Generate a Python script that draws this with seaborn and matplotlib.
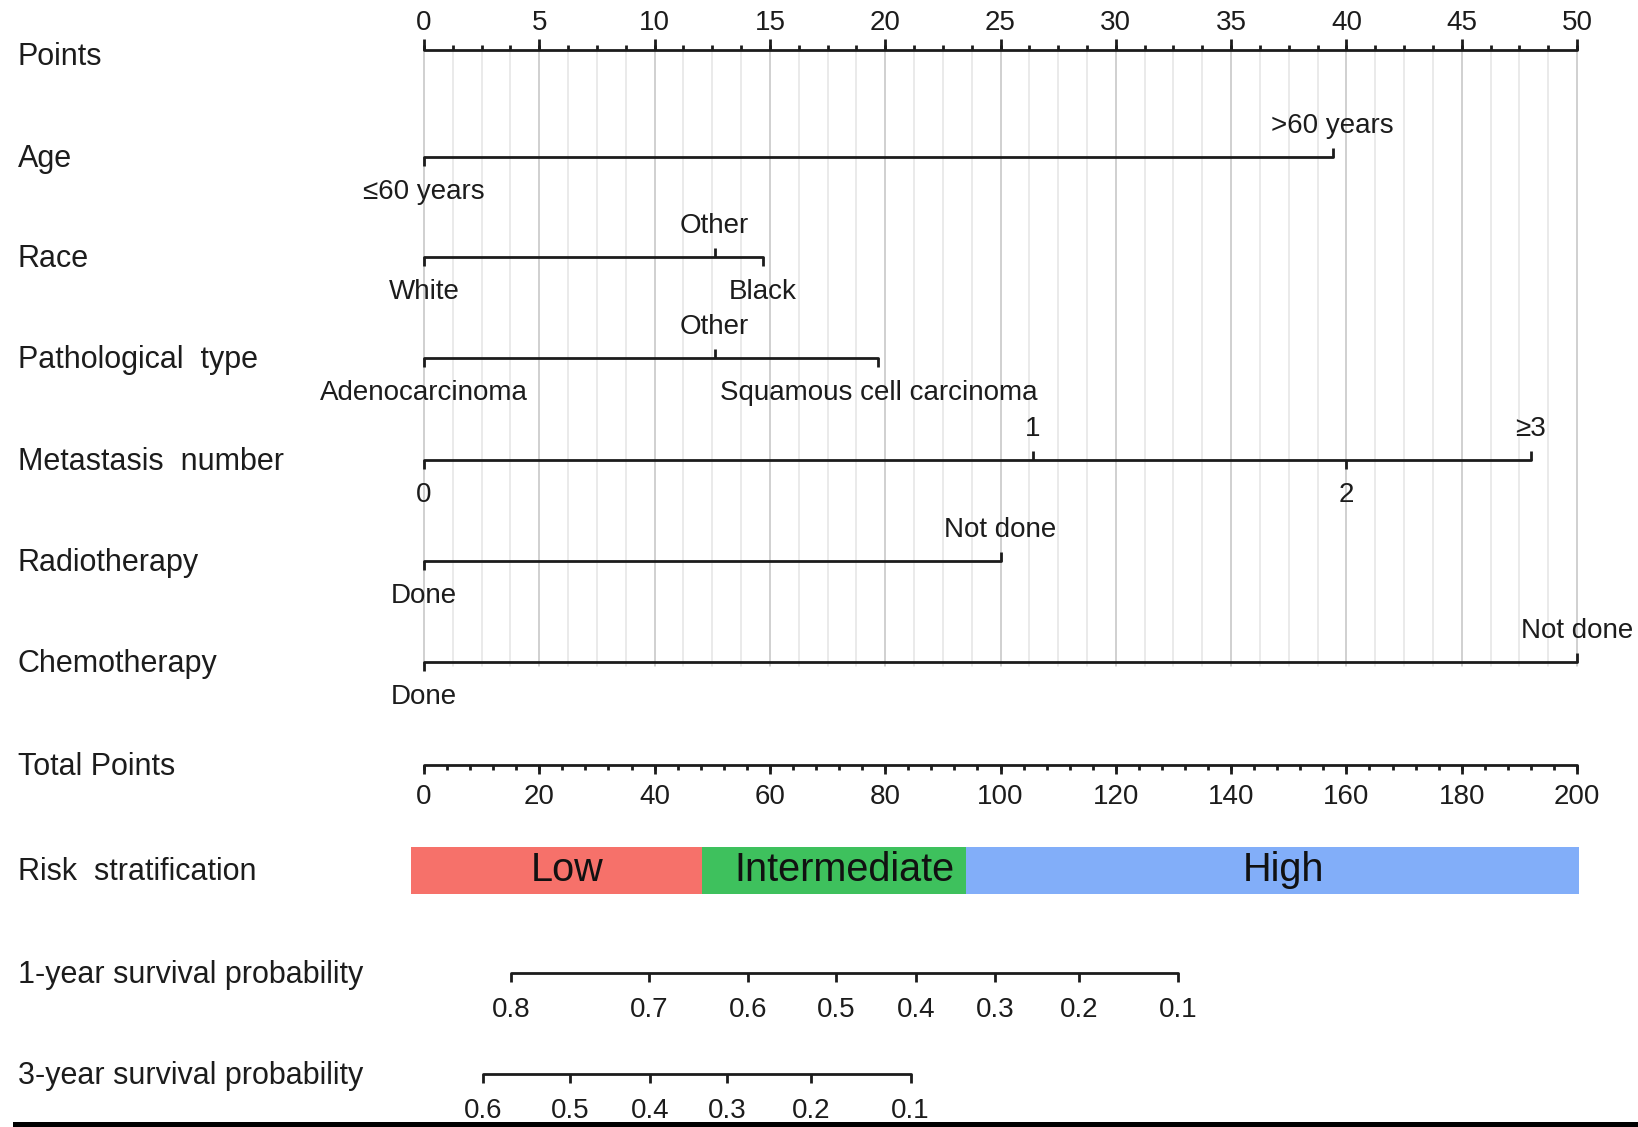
import numpy as np
import matplotlib
matplotlib.use("Agg")
import matplotlib.pyplot as plt
import seaborn as sns
from matplotlib.patches import Rectangle

# ========================
# DATA
# ========================
points_major = list(range(0, 51, 5))
total_major = list(range(0, 201, 20))

age_labels = ["≤60 years", ">60 years"]
age_points = [0, 39.4]
race_labels = ["White", "Other", "Black"]
race_points = [0, 12.6, 14.7]
path_labels = ["Adenocarcinoma", "Other", "Squamous cell carcinoma"]
path_points = [0, 12.6, 19.7]
meta_labels = ["0", "1", "2", "≥3"]
meta_points = [0, 26.4, 40.0, 48.0]
radio_labels = ["Done", "Not done"]
radio_points = [0, 25.0]
chemo_labels = ["Done", "Not done"]
chemo_points = [0, 50.0]

risk_labels = ["Low", "Intermediate", "High"]
risk_edges = [-2.3, 48.2, 94.1, 200.4]  # in total points
risk_colors = ["#F6716A", "#3EC15D", "#82AEF9"]

surv1_labels = ["0.8", "0.7", "0.6", "0.5", "0.4", "0.3", "0.2", "0.1"]
surv1_total = [15.1, 39.0, 56.2, 71.5, 85.4, 99.0, 113.6, 130.8]
surv3_labels = ["0.6", "0.5", "0.4", "0.3", "0.2", "0.1"]
surv3_total = [10.3, 25.3, 39.2, 52.6, 67.1, 84.4]

# ========================
# LAYOUT
# ========================
W, H = 1638, 1127
X0_PX, PX_PER_PT = 424, 23.06
TOTAL_MAX, POINTS_MAX = 200, 50
INK = "#1c1c1c"
LW = 2.0
ROW_Y = {"Points": 50, "Age": 157, "Race": 257, "Pathological  type": 358,
         "Metastasis  number": 460, "Radiotherapy": 561, "Chemotherapy": 662,
         "Total Points": 765, "Risk  stratification": 870,
         "1-year survival probability": 973, "3-year survival probability": 1074}
LABEL_FS, VALUE_FS, RISK_FS = 22, 20, 28.5


def px2pt(px):
    return (px - X0_PX) / PX_PER_PT


def tot2pt(t):
    return np.asarray(t, dtype=float) * POINTS_MAX / TOTAL_MAX


sns.set_theme(style="white")
plt.rcParams["font.family"] = ["Liberation Sans", "DejaVu Sans"]

fig = plt.figure(figsize=(W / 100, H / 100), dpi=100)
ax = fig.add_axes([0, 0, 1, 1])
ax.set_xlim(px2pt(0), px2pt(W))
ax.set_ylim(H, 0)
ax.axis("off")


def hline(x0, x1, y):
    sns.lineplot(x=[x0, x1], y=[y, y], ax=ax, color=INK, lw=LW)


def tick(x, y, length, up):
    ax.plot([x, x], [y, y - length if up else y + length], color=INK, lw=LW,
            solid_capstyle="butt")


# grid behind the predictor rows
grid_x = np.arange(0, POINTS_MAX + 0.01, 1.25)
for gx in grid_x:
    major = abs(gx % 5) < 1e-6
    ax.plot([gx, gx], [ROW_Y["Points"], ROW_Y["Chemotherapy"] + 4],
            color="#c4c4c4" if major else "#e4e4e4", lw=1.1, zorder=0)

# row labels
for name, y in ROW_Y.items():
    ax.text(px2pt(18), y + (7 if name == "Points" else 2), name, fontsize=LABEL_FS,
            color=INK, ha="left", va="center")

# points axis
y = ROW_Y["Points"]
hline(0, POINTS_MAX, y)
for gx in grid_x:
    tick(gx, y, 5, up=True)
for p in points_major:
    tick(p, y, 11, up=True)
    ax.text(p, y - 27, str(p), fontsize=VALUE_FS, color=INK, ha="center", va="center")

# predictor rows
predictors = [("Age", age_labels, age_points),
              ("Race", race_labels, race_points),
              ("Pathological  type", path_labels, path_points),
              ("Metastasis  number", meta_labels, meta_points),
              ("Radiotherapy", radio_labels, radio_points),
              ("Chemotherapy", chemo_labels, chemo_points)]
for name, labels, pts in predictors:
    y = ROW_Y[name]
    hline(min(pts), max(pts), y)
    order = np.argsort(pts, kind="stable")
    for i, k in enumerate(order):
        up = i % 2 == 1
        tick(pts[k], y, 9, up=up)
        ax.text(pts[k], y - 31 if up else y + 35, labels[k], fontsize=VALUE_FS,
                color=INK, ha="center", va="center")

# total points axis
y = ROW_Y["Total Points"]
hline(0, POINTS_MAX, y)
for t in range(0, TOTAL_MAX + 1, 4):
    tick(tot2pt(t), y, 5, up=False)
for t in total_major:
    tick(tot2pt(t), y, 9, up=False)
    ax.text(tot2pt(t), y + 32, str(t), fontsize=VALUE_FS, color=INK,
            ha="center", va="center")

# risk stratification bar
y = ROW_Y["Risk  stratification"]
lefts = tot2pt(risk_edges[:-1])
widths = tot2pt(risk_edges[1:]) - lefts
ax.barh([y] * 3, widths, left=lefts, height=47, color=risk_colors, edgecolor="none")
for lab, l, w in zip(risk_labels, lefts, widths):
    ax.text(l + w / 2 + 0.45, y, lab, fontsize=RISK_FS, color="#111111",
            ha="center", va="center")

# survival probability axes
for name, labels, tots in [("1-year survival probability", surv1_labels, surv1_total),
                           ("3-year survival probability", surv3_labels, surv3_total)]:
    y = ROW_Y[name]
    xs = tot2pt(tots)
    hline(xs.min(), xs.max(), y)
    for xv, lab in zip(xs, labels):
        tick(xv, y, 9, up=False)
        ax.text(xv, y + 37, lab, fontsize=VALUE_FS, color=INK, ha="center", va="center")

# dark strip along the bottom edge of the original image
fig.add_artist(Rectangle((13 / W, 0), 1, 5.5 / H, transform=fig.transFigure,
                         color="black", lw=0))

fig.savefig("out.png", dpi=100, facecolor="white")
